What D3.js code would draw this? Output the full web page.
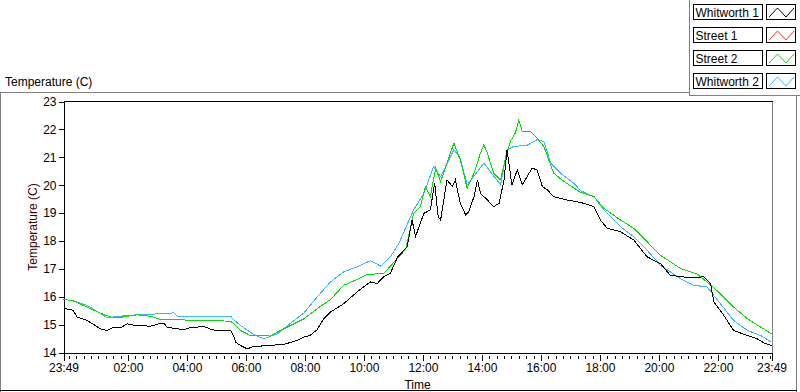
<!DOCTYPE html>
<html>
<head>
<meta charset="utf-8">
<script src="https://cdn.jsdelivr.net/npm/d3@7"></script>
<style>
  body { margin: 0; background: #fff; }
  svg  { display: block; font-family: "Liberation Sans", Arial, sans-serif; font-size: 12px; }
</style>
</head>
<body>
<svg id="chart" width="800" height="392"></svg>
<script>
// ── Data (minutes after 23:49, temperature in C) ───────────────────────────

const seriesNames  = ['Whitworth 1', 'Street 1', 'Street 2', 'Whitworth 2'];
const seriesColors = ['#000000', '#ff3030', '#00e000', '#3cb4ff'];

const w1Minutes = [0,14,20,28,48,75,89,102,116,130,142,157,177,197,204,211,231,244,258,272,285,299,312,340,346,350,360,374,387,401,414,448,475,489,502,516,529,543,570,597,624,638,651,665,679,699,709,716,723,733,746,755,762,767,780,791,797,807,818,824,835,842,848,862,875,886,896,902,912,923,933,943,953,963,974,984,997,1024,1052,1079,1092,1106,1133,1160,1187,1214,1234,1269,1302,1316,1323,1343,1363,1391,1411,1425,1440];
const w1Temps   = [15.57,15.55,15.49,15.27,15.15,14.85,14.79,14.91,14.89,15.03,14.98,14.97,14.94,15.05,15.05,14.91,14.85,14.82,14.89,14.91,14.94,14.84,14.77,14.79,14.60,14.37,14.25,14.13,14.22,14.23,14.25,14.29,14.43,14.55,14.62,14.82,15.20,15.45,15.75,16.17,16.53,16.47,16.71,16.85,17.41,17.79,18.75,18.15,18.51,18.99,19.11,20.07,18.87,18.75,20.19,19.95,20.19,19.35,18.93,19.05,19.59,20.19,19.71,19.47,19.23,19.35,20.19,21.27,20.01,20.55,20.01,20.31,20.61,20.55,19.95,19.83,19.59,19.47,19.38,19.23,18.75,18.45,18.33,18.03,17.43,17.19,16.77,16.69,16.71,16.47,15.81,15.33,14.79,14.61,14.49,14.34,14.25];

const s1Minutes = [];
const s1Temps   = [];

const s2Minutes = [0,20,48,75,96,119,150,177,197,299,340,346,360,380,421,435,462,489,516,543,570,597,618,651,679,696,712,726,736,746,757,767,780,794,807,821,835,848,855,862,875,889,899,909,919,926,933,950,963,977,997,1018,1052,1079,1099,1133,1160,1187,1214,1255,1289,1309,1336,1363,1391,1418,1440];
const s2Temps   = [15.91,15.85,15.63,15.41,15.27,15.27,15.35,15.30,15.18,15.15,15.12,15.03,14.79,14.61,14.59,14.73,14.97,15.21,15.57,15.90,16.41,16.62,16.80,16.83,17.37,17.70,18.99,19.23,19.95,19.59,20.61,20.13,20.79,21.51,20.91,19.89,20.43,21.15,21.45,21.15,20.43,20.19,20.97,21.57,21.87,22.33,21.93,21.93,21.69,21.39,20.43,20.13,19.74,19.59,19.17,18.75,18.45,17.97,17.49,17.01,16.81,16.53,16.11,15.63,15.21,14.91,14.67];

const w2Minutes = [0,20,48,89,130,170,203,224,231,340,346,360,387,407,435,462,489,516,543,570,597,624,645,665,682,712,733,753,767,794,807,821,842,855,868,889,902,916,943,963,977,991,1011,1038,1052,1079,1099,1133,1160,1187,1214,1255,1282,1309,1336,1363,1391,1418,1440];
const w2Temps   = [15.91,15.85,15.69,15.25,15.33,15.37,15.39,15.42,15.30,15.30,15.18,14.97,14.64,14.49,14.67,15.05,15.42,15.99,16.53,16.89,17.07,17.29,17.10,17.43,17.91,19.11,19.71,20.67,20.31,21.27,20.97,20.01,20.49,20.79,20.49,20.01,21.27,21.39,21.43,21.63,21.57,20.79,20.43,20.07,19.80,19.59,19.11,18.51,18.15,17.67,17.13,16.65,16.41,16.35,15.75,15.15,14.79,14.61,14.37];

const yTicks = [14, 15, 16, 17, 18, 19, 20, 21, 22, 23];

// ── Layout ─────────────────────────────────────────────────────────────────

const svg = d3.select('#chart');
const plot = { left: 63.5, right: 772.5, top: 101.5, bottom: 352.5 };

const start = new Date(2000, 0, 1, 23, 49);
const end   = d3.timeMinute.offset(start, 1440);
const atMin = m => d3.timeMinute.offset(start, m);

const x = d3.scaleTime().domain([start, end]).range([plot.left, 771.5]);
const y = d3.scaleLinear().domain([14, 23]).range([plot.bottom, plot.top]);

// ── Frames ─────────────────────────────────────────────────────────────────

const frame = svg.append('g').attr('shape-rendering', 'crispEdges');
frame.append('line').attr('x1', 0).attr('x2', 689.5).attr('y1', 92.5).attr('y2', 92.5).attr('stroke', '#808080');
frame.append('line').attr('x1', 689.5).attr('x2', 689.5).attr('y1', 0).attr('y2', 95.5).attr('stroke', '#808080');
frame.append('line').attr('x1', 689.5).attr('x2', 800).attr('y1', 95.5).attr('y2', 95.5).attr('stroke', '#808080');
frame.append('line').attr('x1', 0.5).attr('x2', 0.5).attr('y1', 92.5).attr('y2', 392).attr('stroke', '#808080');
frame.append('line').attr('x1', 796.5).attr('x2', 796.5).attr('y1', 95.5).attr('y2', 392).attr('stroke', '#808080');
frame.append('line').attr('x1', 0).attr('x2', 797).attr('y1', 390.5).attr('y2', 390.5).attr('stroke', '#000');

// plot box: black top, gray right
frame.append('line').attr('x1', plot.left).attr('x2', plot.right).attr('y1', plot.top).attr('y2', plot.top).attr('stroke', '#000');
frame.append('line').attr('x1', plot.right).attr('x2', plot.right).attr('y1', plot.top).attr('y2', plot.bottom).attr('stroke', '#808080');

svg.append('text').attr('x', 5).attr('y', 86).attr('fill', '#000').text('Temperature (C)');

// ── Axes ───────────────────────────────────────────────────────────────────

const yAxis = svg.append('g')
  .attr('transform', `translate(${plot.left},0)`)
  .attr('shape-rendering', 'crispEdges')
  .call(d3.axisLeft(y).tickValues(yTicks).tickSize(5).tickSizeOuter(0).tickPadding(2).tickFormat(d3.format('d')));
yAxis.selectAll('text').attr('font-size', 12).attr('font-family', null).attr('fill', '#000');

const majors = [start, ...d3.timeHour.every(2).range(d3.timeMinute.offset(start, 60), end), end];
const minors = d3.timeMinute.every(15).range(start, end);

const xAxis = svg.append('g')
  .attr('transform', `translate(0,${plot.bottom})`)
  .attr('shape-rendering', 'crispEdges')
  .call(d3.axisBottom(x).tickValues(majors).tickFormat(d3.timeFormat('%H:%M')).tickSizeOuter(0).tickSize(8).tickPadding(3));
xAxis.selectAll('.tick line').attr('y1', 2);
xAxis.selectAll('text').attr('font-size', 12).attr('font-family', null).attr('fill', '#000').attr('dy', '0.71em');

xAxis.selectAll('.minor')
  .data(minors)
  .join('line')
  .attr('class', 'minor')
  .attr('x1', d => Math.round(x(d)) + 0.5).attr('x2', d => Math.round(x(d)) + 0.5)
  .attr('y1', 3).attr('y2', 6)
  .attr('stroke', '#000');

svg.append('text')
  .attr('x', (plot.left + 771.5) / 2).attr('y', 389)
  .attr('text-anchor', 'middle')
  .text('Time');

svg.append('text')
  .attr('transform', `translate(37,${(plot.top + plot.bottom) / 2}) rotate(-90)`)
  .attr('text-anchor', 'middle')
  .attr('fill', '#400000')
  .text('Temperature (C)');

// ── Series ─────────────────────────────────────────────────────────────────

const series = [
  { name: seriesNames[0], color: seriesColors[0], minutes: w1Minutes, temps: w1Temps },
  { name: seriesNames[1], color: seriesColors[1], minutes: s1Minutes, temps: s1Temps },
  { name: seriesNames[2], color: seriesColors[2], minutes: s2Minutes, temps: s2Temps },
  { name: seriesNames[3], color: seriesColors[3], minutes: w2Minutes, temps: w2Temps }
];

const line = d3.line()
  .x(d => x(atMin(d[0])))
  .y(d => y(d[1]));

const drawOrder = [3, 1, 2, 0];
svg.append('g')
  .selectAll('path')
  .data(drawOrder.map(i => series[i]))
  .join('path')
  .attr('fill', 'none')
  .attr('stroke', d => d.color)
  .attr('stroke-width', 1)
  .attr('shape-rendering', 'crispEdges')
  .attr('d', d => d.minutes.length ? line(d3.zip(d.minutes, d.temps)) : null);

// ── Legend ─────────────────────────────────────────────────────────────────

const legend = svg.append('g').attr('shape-rendering', 'crispEdges');
const row = legend.selectAll('g')
  .data(series)
  .join('g')
  .attr('transform', (d, i) => `translate(0,${4 + i * 23})`);

row.append('rect').attr('x', 693.5).attr('y', 0.5).attr('width', 69).attr('height', 15)
  .attr('fill', '#fff').attr('stroke', '#000');
row.append('text').attr('x', 695.5).attr('y', 12.5).text(d => d.name);
row.append('rect').attr('x', 766.5).attr('y', 0.5).attr('width', 29).attr('height', 15)
  .attr('fill', '#fff').attr('stroke', '#000');
row.append('path')
  .attr('fill', 'none')
  .attr('stroke', d => d.color)
  .attr('shape-rendering', 'auto')
  .attr('d', 'M769,13 L777.5,4 L786,13 L794,4');
</script>
</body>
</html>
